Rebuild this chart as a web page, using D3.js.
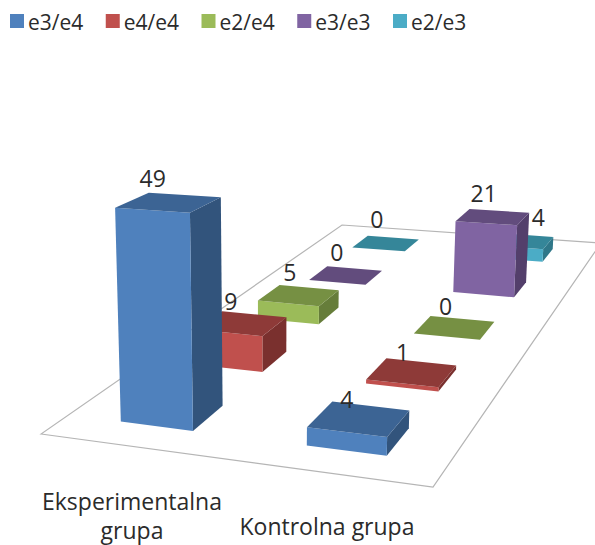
<!DOCTYPE html>
<html>
<head>
<meta charset="utf-8">
<script src="https://cdn.jsdelivr.net/npm/d3@7/dist/d3.min.js"></script>
<style>
html,body{margin:0;padding:0;background:#fff;overflow:hidden}
text{font-family:"Open Sans",sans-serif;fill:#2b2b2b}
</style>
</head>
<body>
<svg id="chart" width="595" height="545"></svg>
<script>
// Genotype counts per study group
const categories = ["Eksperimentalna grupa", "Kontrolna grupa"];
const seriesNames = ["e3/e4", "e4/e4", "e2/e4", "e3/e3", "e2/e3"];
const eksperimentalna = [49, 9, 5, 0, 0];
const kontrolna = [4, 1, 0, 21, 4];

const frontColors = ["#4F81BD", "#C0504D", "#9BBB59", "#8064A2", "#4BACC6"];
const topColors = ["#3C6494", "#8E3A38", "#769043", "#624C7D", "#358699"];
const sideColors = ["#32547C", "#7A302E", "#667D3A", "#533F6B", "#2F7789"];

const svg = d3.select("#chart");

// Floor quad corners: front-left, front-right, back-right, back-left
const floor = [[41, 434], [433, 487], [601, 243], [342, 225]];

// Planar homography from the unit square onto the floor quad
function makeHomography([p0, p1, p2, p3]) {
  const sx = p0[0] - p1[0] + p2[0] - p3[0], sy = p0[1] - p1[1] + p2[1] - p3[1];
  const dx1 = p1[0] - p2[0], dy1 = p1[1] - p2[1];
  const dx2 = p3[0] - p2[0], dy2 = p3[1] - p2[1];
  const den = dx1 * dy2 - dx2 * dy1;
  const g = (sx * dy2 - dx2 * sy) / den, h = (dx1 * sy - sx * dy1) / den;
  const a = p1[0] - p0[0] + g * p1[0], b = p3[0] - p0[0] + h * p3[0];
  const d = p1[1] - p0[1] + g * p1[1], e = p3[1] - p0[1] + h * p3[1];
  return (u, v) => {
    const w = g * u + h * v + 1;
    return { x: (a * u + b * v + p0[0]) / w, y: (d * u + e * v + p0[1]) / w, w };
  };
}
const onFloor = makeHomography(floor);

const uScale = d3.scaleBand().domain(categories).range([0, 1]).paddingInner(0.6).paddingOuter(0.3);
const vScale = d3.scaleBand().domain(seriesNames).range([0, 1]).paddingInner(0.6).paddingOuter(0.3);
const zScale = d3.scaleLinear().domain([0, 49]).range([0, 218]);

// Verticals converge slightly towards a point far below the chart
const nadir = { x: 270, y: 6000 };
function project(u, v, value) {
  const p = onFloor(u, v);
  const z = zScale(value) / p.w;
  return [p.x + (p.x - nadir.x) / (nadir.y - p.y) * z, p.y - z];
}
const line = d3.line();
const facePath = pts => line(pts) + "Z";

// Floor outline
svg.append("path")
  .attr("d", facePath(floor))
  .attr("fill", "none")
  .attr("stroke", "#b5b5b5")
  .attr("stroke-width", 1.2);

// Flatten to one record per bar, painted from the back row forwards
const bars = [];
categories.forEach((c, ci) => {
  const values = ci === 0 ? eksperimentalna : kontrolna;
  seriesNames.forEach((s, si) => bars.push({ c, ci, s, si, value: values[si] }));
});
bars.sort((a, b) => d3.descending(a.si, b.si));

const barGroups = svg.selectAll("g.bar").data(bars).join("g").attr("class", "bar");

// Value labels drift a little left and down towards the front of the floor
const labelDx = (d, c) => -9 - 0.03 * Math.max(0, 300 - c[0]) - (d.si === 0 ? 3 : 0);
const labelDy = c => -15 + Math.max(0, (c[1] - 260) * 0.03);

barGroups.each(function (d) {
  const g = d3.select(this);
  const u0 = uScale(d.c), u1 = u0 + uScale.bandwidth();
  const v0 = vScale(d.s), v1 = v0 + vScale.bandwidth();
  if (d.value > 0) {
    g.append("path").attr("fill", sideColors[d.si])
      .attr("d", facePath([project(u1, v0, 0), project(u1, v1, 0), project(u1, v1, d.value), project(u1, v0, d.value)]));
    g.append("path").attr("fill", frontColors[d.si])
      .attr("d", facePath([project(u0, v0, 0), project(u1, v0, 0), project(u1, v0, d.value), project(u0, v0, d.value)]));
  }
  g.append("path").attr("fill", topColors[d.si])
    .attr("d", facePath([project(u0, v0, d.value), project(u1, v0, d.value), project(u1, v1, d.value), project(u0, v1, d.value)]));
  const c = project((u0 + u1) / 2, (v0 + v1) / 2, d.value);
  // The control e2/e3 label sits clear of the taller e3/e3 bar in front of it
  const clearOfBar = d.ci === 1 && d.si === 4;
  g.append("text")
    .attr("x", c[0] + (clearOfBar ? 18 : labelDx(d, c)))
    .attr("y", c[1] + labelDy(c))
    .attr("text-anchor", "middle")
    .attr("font-size", 23)
    .text(d.value);
});

// Category labels below the floor
const labelSize = 23;
svg.append("text").attr("x", 132).attr("y", 510).attr("text-anchor", "middle").attr("font-size", labelSize).text("Eksperimentalna");
svg.append("text").attr("x", 132).attr("y", 539).attr("text-anchor", "middle").attr("font-size", labelSize).text("grupa");
svg.append("text").attr("x", 327).attr("y", 535).attr("text-anchor", "middle").attr("font-size", labelSize).text("Kontrolna grupa");

// Legend row
const legendX = d3.scalePoint().domain(seriesNames).range([10, 393]);
const legend = svg.selectAll("g.legend").data(seriesNames).join("g").attr("class", "legend")
  .attr("transform", d => `translate(${legendX(d)},0)`);
legend.append("rect").attr("y", 14).attr("width", 14).attr("height", 14)
  .attr("fill", (d, i) => frontColors[i]);
legend.append("text").attr("x", 18).attr("y", 30).attr("font-size", 21).text(d => d);
</script>
</body>
</html>
